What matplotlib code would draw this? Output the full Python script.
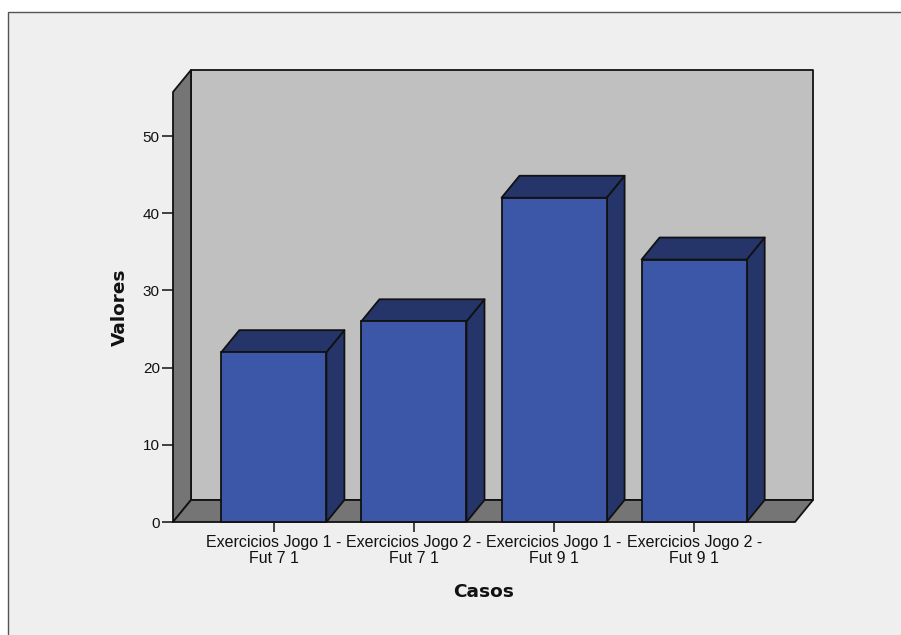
import matplotlib
matplotlib.use("Agg")
import matplotlib.pyplot as plt
from matplotlib.patches import Rectangle

categories = ["Exercicios Jogo 1 -\nFut 7 1", "Exercicios Jogo 2 -\nFut 7 1",
              "Exercicios Jogo 1 -\nFut 9 1", "Exercicios Jogo 2 -\nFut 9 1"]
values = [22, 26, 42, 34]
y_ticks = [0, 10, 20, 30, 40, 50]

W, H = 901, 635
plt.rcParams['font.family'] = ['Liberation Sans', 'DejaVu Sans']
fig = plt.figure(figsize=(W / 100, H / 100), dpi=100, facecolor='white')

BG, WALL, SHADE = '#EFEFEF', '#C0C0C0', '#757575'
FRONT, SIDE = '#3C56A8', '#253569'
LW = 1.3

fig.add_artist(Rectangle((8.0 / W, -0.05), 1.0, 1 - 12.0 / H + 0.05, transform=fig.transFigure,
                         facecolor=BG, edgecolor='#555555', linewidth=1.0, zorder=-5))

# Axes = the front plane of the 3D box
L, R, T, B = 173, 795, 92, 522
ax = fig.add_axes([L / W, 1 - B / H, (R - L) / W, (B - T) / H])
ax.patch.set_visible(False)
for s in ax.spines.values():
    s.set_visible(False)

x_pos = list(range(len(values)))
xmin, xmax = -0.72, 3.72
ymin, ymax = 0, 55.7
ax.set_xlim(xmin, xmax)
ax.set_ylim(ymin, ymax)
dx = 18 * (xmax - xmin) / (R - L)
dy = 22 * (ymax - ymin) / (B - T)
bw = 0.75


def poly(xs, ys, color, z):
    ax.fill(xs, ys, facecolor=color, edgecolor='#111111', linewidth=LW, zorder=z,
            clip_on=False, joinstyle='round')


poly([xmin + dx, xmax + dx, xmax + dx, xmin + dx],
     [ymin + dy, ymin + dy, ymax + dy, ymax + dy], WALL, 1)
poly([xmin, xmin + dx, xmin + dx, xmin],
     [ymin, ymin + dy, ymax + dy, ymax], SHADE, 2)
poly([xmin, xmax, xmax + dx, xmin + dx],
     [ymin, ymin, ymin + dy, ymin + dy], SHADE, 2)

for x, v in zip(x_pos, values):
    a, b = x - bw / 2, x + bw / 2
    poly([b, b + dx, b + dx, b], [0, dy, v + dy, v], SIDE, 3)
    poly([a, b, b + dx, a + dx], [v, v, v + dy, v + dy], SIDE, 3)
ax.bar(x_pos, values, width=bw, color=FRONT, edgecolor='#111111', linewidth=LW, zorder=4, clip_on=False)

ax.set_yticks(y_ticks)
ax.set_xticks(x_pos)
ax.set_xticklabels(categories, linespacing=1.03)
ax.tick_params(axis='y', length=8, width=1.2, color='#222222', pad=1.5, labelsize=11, labelcolor='#111111')
ax.tick_params(axis='x', length=7, width=1.2, color='#222222', pad=2.5, labelsize=11.5, labelcolor='#111111')

fig.text(484 / W, 1 - 592 / H, "Casos", fontsize=13.3, fontweight='bold', family='DejaVu Sans',
         ha='center', va='center', color='#111111')
fig.text(120 / W, 1 - 307 / H, "Valores", fontsize=13.3, fontweight='bold', family='DejaVu Sans',
         rotation=90, ha='center', va='center', color='#111111')

fig.savefig("out.png", dpi=100, facecolor='white')
